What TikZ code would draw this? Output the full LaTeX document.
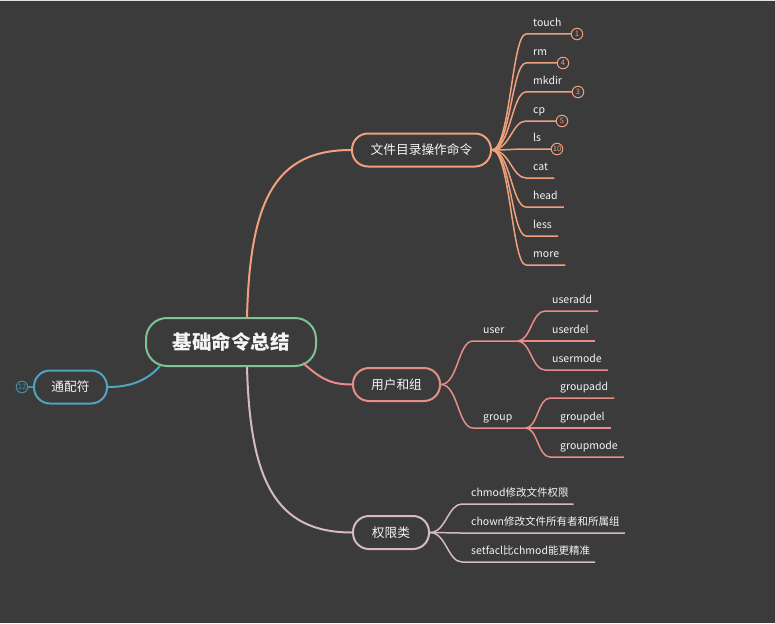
\documentclass[tikz,border=0pt]{standalone}
\usepackage{fontspec}
\setmainfont{Noto Sans CJK SC}
\definecolor{bg}{HTML}{3B3B3B}
\definecolor{txt}{HTML}{F4F4F4}
\definecolor{cfile}{HTML}{F0A07D}
\definecolor{cuser}{HTML}{E88C87}
\definecolor{cperm}{HTML}{D7B9BE}
\definecolor{croot}{HTML}{7DC396}
\definecolor{cwild}{HTML}{50A5BE}
\definecolor{cwildm}{HTML}{4A8CA4}
\tikzset{
  topic/.style={draw, line width=2pt, fill=bg, rounded corners=16pt, minimum height=33pt, inner sep=0pt, text=txt, font=\fontsize{12.7}{14}\selectfont},
  rootbox/.style={draw=croot, line width=2pt, fill=bg, rounded corners=21pt, minimum width=170pt, minimum height=48pt, inner sep=0pt, text=txt, font=\fontsize{19.5}{22}\selectfont\bfseries},
  leaf/.style={anchor=south west, inner xsep=0pt, inner ysep=4pt, text depth=3pt, text height=8pt, text=txt, font=\fontsize{10.5}{12}\selectfont},
  marker/.style={circle, draw, line width=1pt, inner sep=0pt, minimum size=11.5pt, font=\fontsize{7.5}{8}\selectfont},
  mainline/.style={line width=2pt},
  subline/.style={line width=1.5pt},
}
\begin{document}
\begin{tikzpicture}[x=1pt,y=-1pt]
\useasboundingbox (0,0) rectangle (775,623);
\fill[bg] (0,0) rectangle (775,623);
\fill[white!85!bg] (0,0) rectangle (775,1.5);

% main nodes
\node[rootbox] (root) at (231,342) {基础命令总结};
\node[topic, draw=cfile, minimum width=139pt] (f) at (421.5,150) {文件目录操作命令};
\node[topic, draw=cuser, minimum width=87pt] (ug) at (396.5,384.5) {用户和组};
\node[topic, draw=cperm, minimum width=76pt] (p) at (391,532.5) {权限类};
\node[topic, draw=cwild, minimum width=73pt] (w) at (70.5,387) {通配符};
\node[marker, draw=cwildm, text=cwildm] (m12) at (22,387) {12};

% root connectors
\draw[mainline, cfile] ([xshift=16pt]root.north) .. controls (250,200) and (275,150) .. (f.west);
\draw[mainline, cperm] ([xshift=16pt]root.south) .. controls (250,480) and (275,532.5) .. (p.west);
\draw[mainline, cuser] (303,363) .. controls (322,380) and (332,384.5) .. (ug.west);
\draw[mainline, cwild] (160,366) .. controls (146,382) and (128,387) .. (w.east);
\draw[subline, cwildm] (m12.east) -- (w.west);

% file leaves
\node[leaf] (touch) at (533,34) {touch};
\node[leaf] (rm) at (533,63) {rm};
\node[leaf] (mkdir) at (533,92) {mkdir};
\node[leaf] (cp) at (533,121) {cp};
\node[leaf] (ls) at (533,149) {ls};
\node[leaf] (cat) at (533,178) {cat};
\node[leaf] (head) at (533,207) {head};
\node[leaf] (less) at (533,236) {less};
\node[leaf] (more) at (533,265) {more};
\node[marker, draw=cfile, text=cfile] (m1) at (577,34) {1};
\node[marker, draw=cfile, text=cfile] (m4) at (563,63) {4};
\node[marker, draw=cfile, text=cfile] (m3) at (578,92) {3};
\node[marker, draw=cfile, text=cfile] (m5) at (562,121) {5};
\node[marker, draw=cfile, text=cfile] (m10) at (557,149) {10};

\begin{scope}[subline, cfile]
\draw (f.east) .. controls +(18,0) and +(-14,0) .. ([xshift=-7pt]touch.south west) -- (m1.west);
\draw (f.east) .. controls +(18,0) and +(-14,0) .. ([xshift=-7pt]rm.south west) -- (m4.west);
\draw (f.east) .. controls +(18,0) and +(-14,0) .. ([xshift=-7pt]mkdir.south west) -- (m3.west);
\draw (f.east) .. controls +(18,0) and +(-14,0) .. ([xshift=-7pt]cp.south west) -- (m5.west);
\draw (f.east) .. controls +(18,0) and +(-14,0) .. ([xshift=-7pt]ls.south west) -- (m10.west);
\draw (f.east) .. controls +(18,0) and +(-14,0) .. ([xshift=-7pt]cat.south west) -- ([xshift=6pt]cat.south east);
\draw (f.east) .. controls +(18,0) and +(-14,0) .. ([xshift=-7pt]head.south west) -- ([xshift=6pt]head.south east);
\draw (f.east) .. controls +(18,0) and +(-14,0) .. ([xshift=-7pt]less.south west) -- ([xshift=6pt]less.south east);
\draw (f.east) .. controls +(18,0) and +(-14,0) .. ([xshift=-7pt]more.south west) -- ([xshift=6pt]more.south east);
\end{scope}

% user & group
\node[leaf] (user) at (483,341) {user};
\node[leaf] (group) at (483,428) {group};
\node[leaf] (useradd) at (552,311) {useradd};
\node[leaf] (userdel) at (552,341) {userdel};
\node[leaf] (usermode) at (552,370) {usermode};
\node[leaf] (groupadd) at (560,398) {groupadd};
\node[leaf] (groupdel) at (560,428) {groupdel};
\node[leaf] (groupmode) at (560,457) {groupmode};

\begin{scope}[subline, cuser]
\draw (ug.east) .. controls +(17,0) and +(-15,0) .. ([xshift=-10pt]user.south west) -- ([xshift=13pt]user.south east) coordinate (uj);
\draw (ug.east) .. controls +(17,0) and +(-15,0) .. ([xshift=-10pt]group.south west) -- ([xshift=13pt]group.south east) coordinate (gj);
\draw (uj) .. controls +(13,0) and +(-13,0) .. ([xshift=-7pt]useradd.south west) -- ([xshift=6pt]useradd.south east);
\draw (uj) -- ([xshift=6pt]userdel.south east);
\draw (uj) .. controls +(13,0) and +(-13,0) .. ([xshift=-7pt]usermode.south west) -- ([xshift=6pt]usermode.south east);
\draw (gj) .. controls +(12,0) and +(-12,0) .. ([xshift=-10pt]groupadd.south west) -- ([xshift=6pt]groupadd.south east);
\draw (gj) -- ([xshift=6pt]groupdel.south east);
\draw (gj) .. controls +(12,0) and +(-12,0) .. ([xshift=-10pt]groupmode.south west) -- ([xshift=6pt]groupmode.south east);
\end{scope}

% permissions
\node[leaf] (chmod) at (471,504) {chmod修改文件权限};
\node[leaf] (chown) at (471,533) {chown修改文件所有者和所属组};
\node[leaf] (setfacl) at (471,562) {setfacl比chmod能更精准};
\begin{scope}[subline, cperm]
\draw (p.east) .. controls +(16,0) and +(-14,0) .. ([xshift=-9pt]chmod.south west) -- ([xshift=5pt]chmod.south east);
\draw (p.east) .. controls +(16,0) and +(-14,0) .. ([xshift=-9pt]chown.south west) -- ([xshift=5pt]chown.south east);
\draw (p.east) .. controls +(16,0) and +(-14,0) .. ([xshift=-9pt]setfacl.south west) -- ([xshift=5pt]setfacl.south east);
\end{scope}
\end{tikzpicture}
\end{document}
